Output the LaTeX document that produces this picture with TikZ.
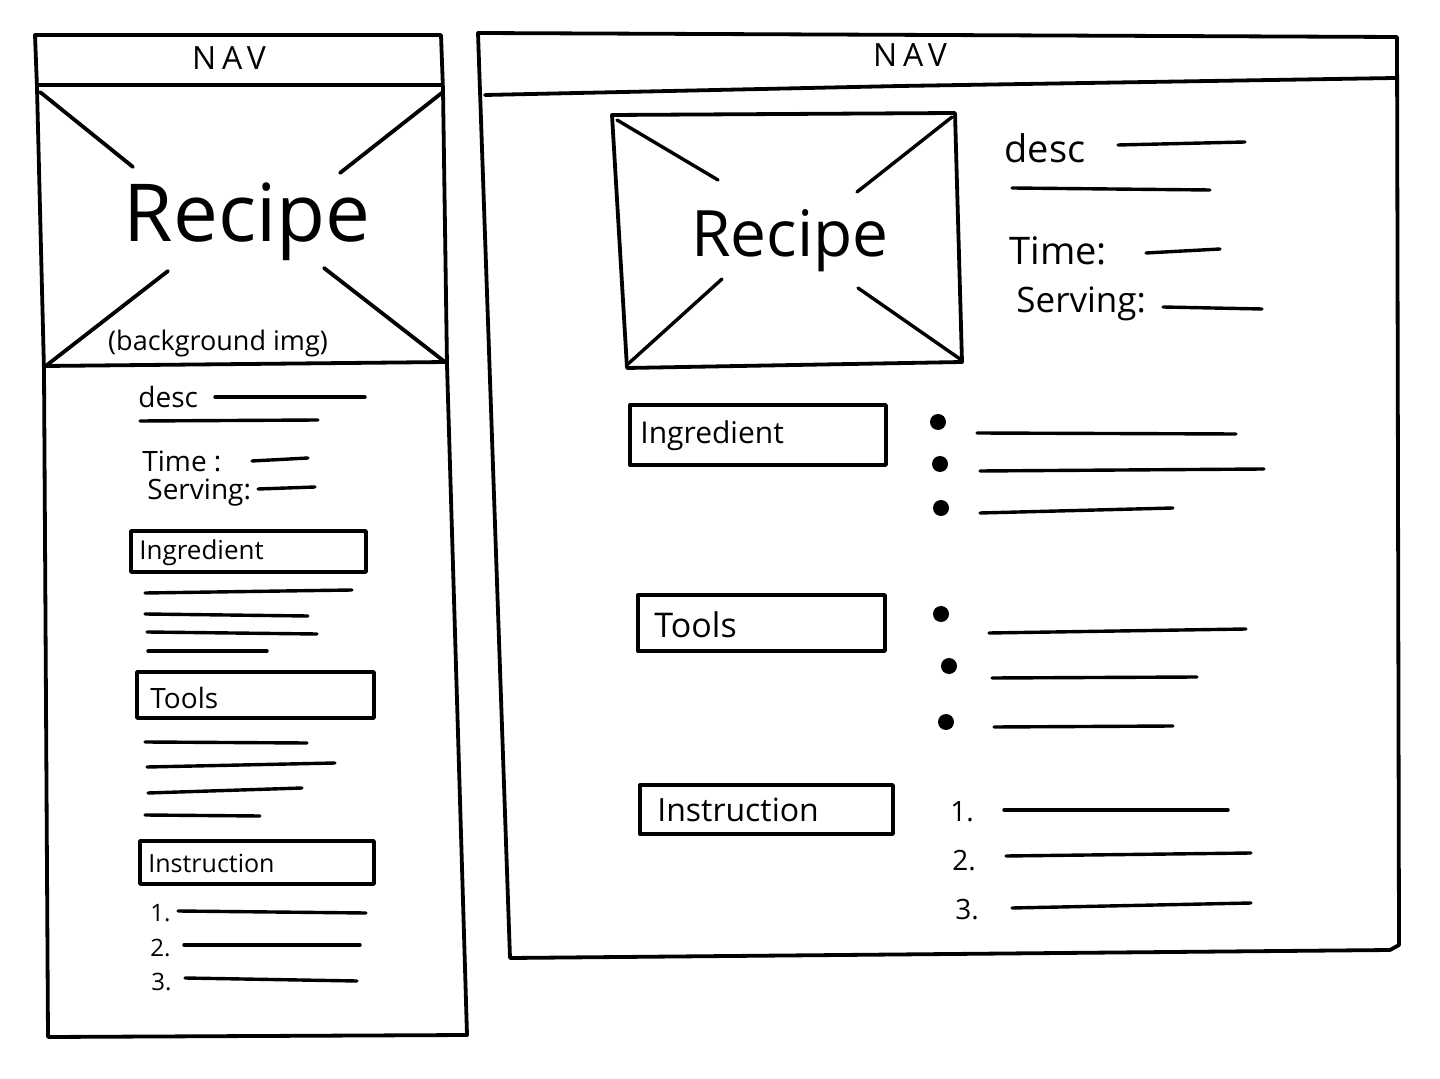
\documentclass[tikz,border=0pt]{standalone}
\usepackage{fontspec}
\setmainfont{Open Sans}
\newcommand{\fsz}[1]{\fontsize{#1}{#1}\selectfont}
\begin{document}
\begin{tikzpicture}[x=0.5pt,y=-0.5pt,
  pen/.style={line width=1.9pt,line cap=round,line join=round},
  thin pen/.style={line width=1.7pt,line cap=round,line join=round},
  txt/.style={inner sep=0pt,anchor=west},
  navtxt/.style={inner sep=0pt,font=\fsz{16}\addfontfeature{LetterSpace=18}},
  bullet/.style={circle,fill,inner sep=0pt,minimum size=8}]
\useasboundingbox[fill=white] (0,0) rectangle (1440,1079);

% ---------------- mobile layout ----------------
\draw[pen] (35,35) -- (441,35) -- (443,90) -- (447,365) -- (467,1035) -- (48,1037) -- (44,370) -- (37,88) -- cycle;
\draw[pen] (37,85) -- (441,85);
\draw[pen] (45,366) -- (447,362);
\node[navtxt] (mnav) at (229,58) {NAV};
% image placeholder cross
\draw[pen] (40,92) -- (133,167);
\draw[pen] (443,92) -- (340,173);
\draw[pen] (47,365) -- (168,271);
\draw[pen] (445,362) -- (324,268);
\node[inner sep=0pt,font=\fsz{40}] (mrecipe) at (247,222) {Recipe};
\node[inner sep=0pt,font=\fsz{13.5}] (mbg) at (218,343) {(background img)};
% description block
\node[txt,font=\fsz{14}] (mdesc) at (138,397) {desc};
\draw[thin pen] (215,397) -- (365,397);
\draw[thin pen] (140,421) -- (318,420);
\node[txt,font=\fsz{14}] (mtime) at (142,461) {Time :};
\draw[thin pen] (252,461) -- (308,458);
\node[txt,font=\fsz{14}] (mserv) at (147,493) {Serving:};
\draw[thin pen] (258,489) -- (315,487);
% ingredient
\draw[thin pen] (131,531) rectangle (366,572);
\node[txt,font=\fsz{13}] (ming) at (139,553) {Ingredient};
\draw[thin pen] (145,593) -- (352,590);
\draw[thin pen] (145,614) -- (308,616);
\draw[thin pen] (147,632) -- (317,634);
\draw[thin pen] (148,651) -- (267,651);
% tools
\draw[thin pen] (137,672) rectangle (374,718);
\node[txt,font=\fsz{14}] (mtools) at (150,698) {Tools};
\draw[thin pen] (145,742) -- (307,743);
\draw[thin pen] (147,767) -- (335,763);
\draw[thin pen] (148,793) -- (302,788);
\draw[thin pen] (145,815) -- (260,816);
% instruction
\draw[thin pen] (140,841) rectangle (374,884);
\node[txt,font=\fsz{12.5}] (minst) at (148,863) {Instruction};
\node[txt,font=\fsz{12}] (mn1) at (150,913) {1.};
\draw[thin pen] (178,911) -- (366,913);
\node[txt,font=\fsz{12}] (mn2) at (150,948) {2.};
\draw[thin pen] (184,945) -- (360,945);
\node[txt,font=\fsz{12}] (mn3) at (151,982) {3.};
\draw[thin pen] (185,978) -- (357,981);

% ---------------- desktop layout ----------------
\draw[pen] (478,33) -- (1397,37) -- (1399,945) -- (1390,950) -- (510,958) -- cycle;
\draw[pen] (485,95) -- (900,86) -- (1395,78);
\node[navtxt] (dnav) at (910,55) {NAV};
% image placeholder
\draw[pen] (612,115) -- (955,113) -- (962,362) -- (627,368) -- cycle;
\draw[thin pen] (617,120) -- (718,180);
\draw[thin pen] (952,117) -- (857,192);
\draw[thin pen] (628,364) -- (722,279);
\draw[thin pen] (960,359) -- (858,288);
\node[inner sep=0pt,font=\fsz{32}] (drecipe) at (790,241) {Recipe};
% description block
\node[txt,font=\fsz{19}] (ddesc) at (1004,148) {desc};
\draw[thin pen] (1118,145) -- (1245,142);
\draw[thin pen] (1012,188) -- (1210,190);
\node[txt,font=\fsz{19}] (dtime) at (1009,251) {Time:};
\draw[thin pen] (1146,253) -- (1220,249);
\node[txt,font=\fsz{17.5}] (dserv) at (1016,304) {Serving:};
\draw[thin pen] (1163,307) -- (1262,309);
% ingredient
\draw[thin pen] (630,405) rectangle (886,465);
\node[txt,font=\fsz{15}] (ding) at (640,436) {Ingredient};
\node[bullet] (db1) at (938,422) {};
\node[bullet] (db2) at (940,464) {};
\node[bullet] (db3) at (941,508) {};
\draw[thin pen] (977,433) -- (1236,434);
\draw[thin pen] (980,471) -- (1264,469);
\draw[thin pen] (980,513) -- (1173,508);
% tools
\draw[thin pen] (638,595) rectangle (885,651);
\node[txt,font=\fsz{17}] (dtools) at (654,625) {Tools};
\node[bullet] (db4) at (941,614) {};
\node[bullet] (db5) at (949,666) {};
\node[bullet] (db6) at (946,722) {};
\draw[thin pen] (989,633) -- (1246,629);
\draw[thin pen] (992,678) -- (1197,677);
\draw[thin pen] (994,727) -- (1173,726);
% instruction
\draw[thin pen] (640,785) rectangle (893,834);
\node[txt,font=\fsz{16}] (dinst) at (657,810) {Instruction};
\node[txt,font=\fsz{14}] (dn1) at (950,812) {1.};
\draw[thin pen] (1004,810) -- (1228,810);
\node[txt,font=\fsz{14}] (dn2) at (952,861) {2.};
\draw[thin pen] (1006,856) -- (1251,853);
\node[txt,font=\fsz{14}] (dn3) at (955,910) {3.};
\draw[thin pen] (1012,908) -- (1251,903);
\end{tikzpicture}
\end{document}
